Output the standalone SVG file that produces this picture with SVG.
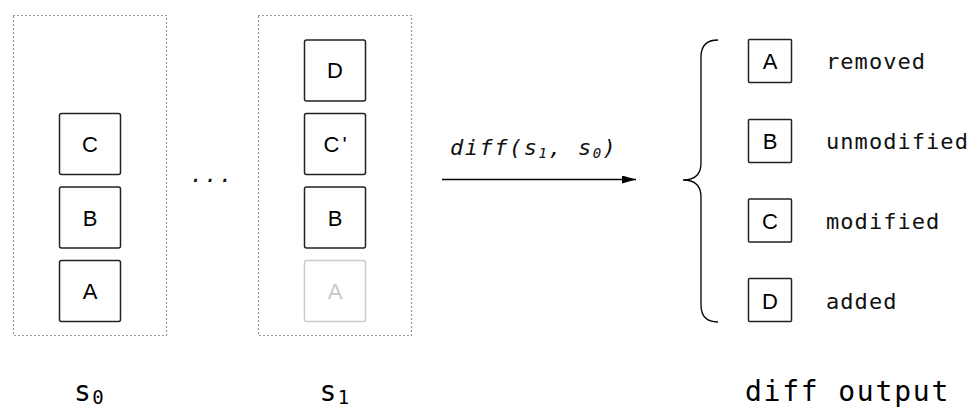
<svg xmlns="http://www.w3.org/2000/svg" width="970" height="407" viewBox="0 0 970 407">
<style>
.frame{fill:none;stroke:#333;stroke-width:1.2;stroke-dasharray:1 3}
.box{fill:#fff;stroke:#222;stroke-width:1.5}
.ghost{fill:#fff;stroke:#ccc;stroke-width:1.5}
.lt{font-family:"Liberation Sans",Arial,sans-serif;font-size:22px;fill:#000;text-anchor:middle}
.lg{fill:#c8c8c8}
.mono{font-family:"DejaVu Sans Mono","Liberation Mono",monospace;font-size:22px;letter-spacing:1.05px;fill:#111}
.big{font-family:"DejaVu Sans Mono","Liberation Mono",monospace;font-size:28px;fill:#000}
.edge{fill:none;stroke:#000;stroke-width:1.3}
</style>
<defs>
<marker id="ah" viewBox="0 0 14 8" refX="14" refY="4" markerWidth="14" markerHeight="8" markerUnits="userSpaceOnUse" orient="auto">
<path d="M0,0 L14,4 L0,8 Z" fill="#000"/>
</marker>
</defs>
<rect fill="#fff" x="0" y="0" width="970" height="407"/>

<g id="s0-frame"><rect class="frame" x="13.5" y="15.5" width="153" height="320"/></g>
<g id="s1-frame"><rect class="frame" x="258.5" y="15.5" width="153" height="320"/></g>

<g id="s0-C"><rect class="box" x="59.5" y="113.5" width="61" height="61" rx="2"/><text class="lt" x="90" y="152">C</text></g>
<g id="s0-B"><rect class="box" x="59.5" y="187" width="61" height="61" rx="2"/><text class="lt" x="90" y="225.5">B</text></g>
<g id="s0-A"><rect class="box" x="59.5" y="260.5" width="61" height="61" rx="2"/><text class="lt" x="90" y="299">A</text></g>

<g id="ellipsis"><text class="mono" x="212" y="182" text-anchor="middle" font-style="italic" style="letter-spacing:1.5px">...</text></g>

<g id="s1-D"><rect class="box" x="304.5" y="40" width="61" height="61" rx="2"/><text class="lt" x="335" y="78">D</text></g>
<g id="s1-C"><rect class="box" x="304.5" y="113.5" width="61" height="61" rx="2"/><text class="lt" x="323.5" y="152" style="text-anchor:start;letter-spacing:3px">C'</text></g>
<g id="s1-B"><rect class="box" x="304.5" y="187" width="61" height="61" rx="2"/><text class="lt" x="335" y="225.5">B</text></g>
<g id="s1-A"><rect class="ghost" x="304.5" y="260.5" width="61" height="61" rx="2"/><text class="lt lg" x="335" y="299">A</text></g>

<g id="connectors">
<line class="edge" x1="442" y1="179.5" x2="636" y2="179.5" marker-end="url(#ah)"/>
<path class="edge" d="M718,40 Q701,40 701,57 L701,163 Q701,180 683,180 Q701,180 701,197 L701,305 Q701,322 718,322"/>
</g>
<g id="arrow-label"><text class="mono" x="450" y="155" font-style="italic" style="letter-spacing:1.5px">diff(s<tspan font-size="14" dy="3">1</tspan><tspan dy="-3">, s</tspan><tspan font-size="14" dy="3">0</tspan><tspan dy="-3">)</tspan></text></g>

<g id="out-A"><rect class="box" x="748.5" y="39.5" width="43" height="43" rx="1"/><text class="lt" x="770" y="69">A</text><text class="mono" x="826" y="69">removed</text></g>
<g id="out-B"><rect class="box" x="748.5" y="119.5" width="43" height="43" rx="1"/><text class="lt" x="770" y="149">B</text><text class="mono" x="826" y="149">unmodified</text></g>
<g id="out-C"><rect class="box" x="748.5" y="199" width="43" height="43" rx="1"/><text class="lt" x="770" y="228.5">C</text><text class="mono" x="826" y="228.5">modified</text></g>
<g id="out-D"><rect class="box" x="748.5" y="278.5" width="43" height="43" rx="1"/><text class="lt" x="770" y="308.5">D</text><text class="mono" x="826" y="308.5">added</text></g>

<g id="label-s0"><text class="big" x="74" y="401">s<tspan font-size="19" dy="3" dx="1.5">0</tspan></text></g>
<g id="label-s1"><text class="big" x="319.5" y="401">s<tspan font-size="19" dy="3" dx="1.5">1</tspan></text></g>
<g id="label-out"><text class="big" x="847.5" y="401" text-anchor="middle" style="letter-spacing:1.8px">diff output</text></g>
</svg>
